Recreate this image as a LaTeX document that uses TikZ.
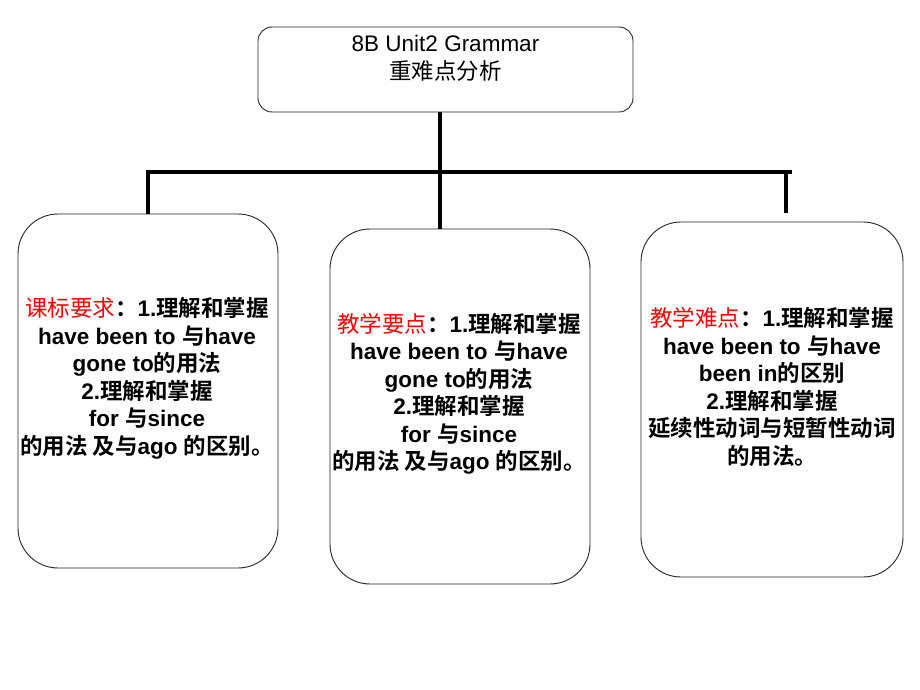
\documentclass[tikz,border=0pt]{standalone}
\usepackage{fontspec}
\setmainfont{Liberation Sans}
\newfontfamily\zhfont{Noto Sans CJK SC}[BoldFont={Noto Sans CJK SC Bold}]
\newcommand{\zh}[1]{{\zhfont #1}}
\newcommand{\hd}[1]{\textcolor{red}{\zh{\mdseries #1}}}
\usetikzlibrary{positioning}

\begin{document}
\begin{tikzpicture}[x=1pt,y=-1pt,
			box/.style={draw=black!85,line width=0.9pt,rounded corners=40pt,fill=white},
			topbox/.style={draw=black!85,line width=0.9pt,rounded corners=14pt},
			txt/.style={align=center,inner sep=0pt,font=\fontsize{22.5}{27.5}\selectfont\bfseries},
			link/.style={line width=3.6pt,black}]
			\useasboundingbox[fill=white] (0,0) rectangle (920,690);
			% top box
			\node[topbox,minimum width=375pt,minimum height=85pt] (top) at (445.5,69.5) {};
			\node[align=center,inner sep=0pt,font=\fontsize{22.5}{28}\selectfont] (toptext) at (445.5,58)
				{8B Unit2 Grammar\\ \zh{重难点分析}};
			% three boxes
			\node[box,minimum width=260pt,minimum height=354pt] (kb) at (148,391) {};
			\node[box,minimum width=260pt,minimum height=355pt] (jd) at (460,406.5) {};
			\node[box,minimum width=262pt,minimum height=355pt] (nd) at (772,399.5) {};
			% connectors
			\coordinate (bl) at (148,172);
			\coordinate (bm) at (440,172);
			\coordinate (br) at (792,172);
			\coordinate (rd) at (786,213);
			\draw[link] (bl |- kb.north) -- (bl) -- (br);
			\draw[link] (bm |- top.south) -- (bm |- jd.north);
			\draw[link] (rd |- br) -- (rd);
			%\draw[link] (br) -- (br |- nd.north);
			% texts
			\node[txt] (kbtext) at (147,378.5) {\hd{课标要求}\zh{：}1.\zh{理解和掌握}\\
				have been to \zh{与}have\\ gone to\zh{的用法}\\ 2.\zh{理解和掌握}\\
				for \zh{与}since\\ \zh{的用法 及与}ago \zh{的区别。}};
			\node[txt] (jdtext) at (459,394) {\hd{教学要点}\zh{：}1.\zh{理解和掌握}\\
				have been to \zh{与}have\\ gone to\zh{的用法}\\ 2.\zh{理解和掌握}\\
				for \zh{与}since\\ \zh{的用法 及与}ago \zh{的区别。}};
			\node[txt] (ndtext) at (772,387) {\hd{教学难点}\zh{：}1.\zh{理解和掌握}\\
				have been to \zh{与}have\\ been in\zh{的区别}\\ 2.\zh{理解和掌握}\\
				\zh{延续性动词与短暂性动词}\\ \zh{的用法。}};
		\end{tikzpicture}
\end{document}
